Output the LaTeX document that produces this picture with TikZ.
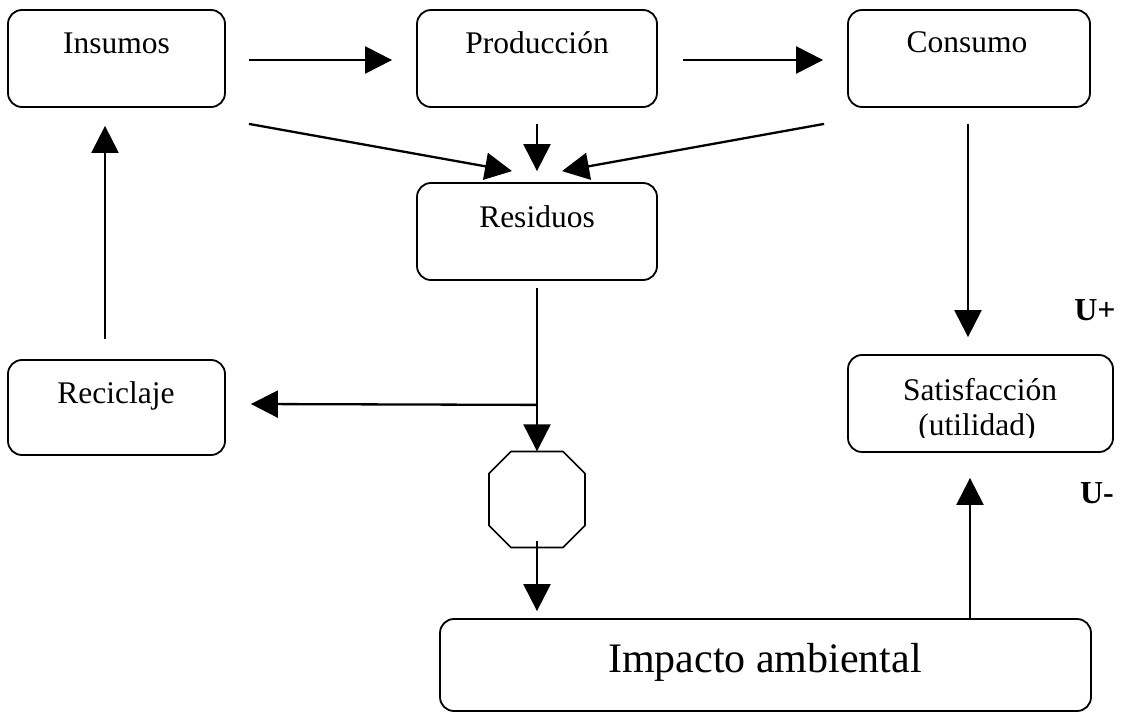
\documentclass[tikz,border=0pt]{standalone}
\usepackage{fontspec}
\setmainfont{Liberation Serif}
\usetikzlibrary{arrows.meta,calc}
\begin{document}
\begin{tikzpicture}[x=1pt,y=-1pt,
  box/.style={draw, line width=1.8pt, rounded corners=14pt, inner sep=0pt, minimum height=97pt},
  txt/.style={inner sep=0pt, anchor=base, font=\fontsize{31.5}{36}\selectfont},
  big/.style={inner sep=0pt, anchor=base, font=\fontsize{42}{48}\selectfont},
  ulab/.style={inner sep=0pt, anchor=base, font=\fontsize{32}{36}\selectfont\bfseries},
  arr/.style={line width=2.3pt, -{Triangle[length=27pt,width=27pt]}},
  ln/.style={line width=2.3pt}]
\useasboundingbox (0,0) rectangle (1124,714);
% boxes
\node[box, minimum width=217pt] (ins) at (116.5,58.5) {};
\node[box, minimum width=240pt] (prod) at (537,58.5) {};
\node[box, minimum width=242pt] (cons) at (969,58.5) {};
\node[box, minimum width=240pt] (res) at (537,231.5) {};
\node[box, minimum width=217pt, minimum height=95pt] (rec) at (116.5,407.5) {};
\node[box, minimum width=265pt] (sat) at (980.5,403.5) {};
\node[box, minimum width=651pt, minimum height=92pt] (imp) at (765.5,665) {};
\node[inner sep=0pt, minimum width=96pt, minimum height=96pt] (oct) at (537,499.5) {};
\draw[line width=1.6pt] ($(oct.center)+(-26,-48)$) -- ($(oct.center)+(26,-48)$) -- ($(oct.center)+(48,-26)$) -- ($(oct.center)+(48,26)$) -- ($(oct.center)+(26,48)$) -- ($(oct.center)+(-26,48)$) -- ($(oct.center)+(-48,26)$) -- ($(oct.center)+(-48,-26)$) -- cycle;
% texts
\node[txt] (insT) at (116.5,54) {Insumos};
\node[txt] (prodT) at (537,54) {Producción};
\node[txt] (consT) at (967,53) {Consumo};
\node[txt] (resT) at (537,227) {Residuos};
\node[txt] (recT) at (116,403) {Reciclaje};
\node[txt] (satT) at (980,400) {Satisfacción};
\begin{scope}
\clip (848,355) rectangle (1113,437);
\node[txt] (utilT) at (977,435) {(utilidad)};
\end{scope}
\node[big] (impT) at (765,672) {Impacto ambiental};
\node[ulab] (up) at (1095,320) {U+};
\node[ulab] (um) at (1097,503) {U-};
% connector endpoints
\coordinate (a1s) at ($(ins.east)+(23,1.5)$);
\coordinate (a1e) at ($(prod.west)+(-24,1.5)$);
\coordinate (a2s) at ($(prod.east)+(25,1.5)$);
\coordinate (a2e) at ($(cons.west)+(-24,1.5)$);
\coordinate (d1s) at ($(ins.south east)+(23,16)$);
\coordinate (d1e) at ($(res.north)+(-25,-11)$);
\coordinate (pds) at ($(prod.south)+(0,16)$);
\coordinate (pde) at ($(res.north)+(0,-11)$);
\coordinate (d2s) at ($(cons.south west)+(-23,16)$);
\coordinate (d2e) at ($(res.north)+(25,-11)$);
\coordinate (cds) at ($(cons.south)+(-1,16)$);
\coordinate (cde) at ($(sat.north -| cds)+(0,-17)$);
\coordinate (rds) at ($(res.south)+(0,7)$);
\coordinate (br) at ($(res.south)+(0,124)$);
\coordinate (bre) at ($(rec.east)+(25,-3.5)$);
\coordinate (rus) at ($(rec.north)+(-11.5,-20)$);
\coordinate (rue) at ($(ins.south)+(-11.5,18)$);
\coordinate (ods) at ($(oct.south)+(0,-7)$);
\coordinate (ode) at ($(imp.north -| ods)+(0,-7)$);
\coordinate (ius) at ($(imp.north)+(204.5,0)$);
\coordinate (iue) at ($(sat.south -| ius)+(0,25)$);
% connectors
\draw[arr] (a1s) -- (a1e);
\draw[arr] (a2s) -- (a2e);
\draw[arr] (d1s) -- (d1e);
\draw[arr] (pds) -- (pde);
\draw[arr] (d2s) -- (d2e);
\draw[arr] (cds) -- (cde);
\draw[arr] (rds) -- (oct.north);
\draw[arr] (br) -- (bre);
\draw[arr] (rus) -- (rue);
\draw[arr] (ods) -- (ode);
\draw[arr] (ius) -- (iue);
\end{tikzpicture}
\end{document}
